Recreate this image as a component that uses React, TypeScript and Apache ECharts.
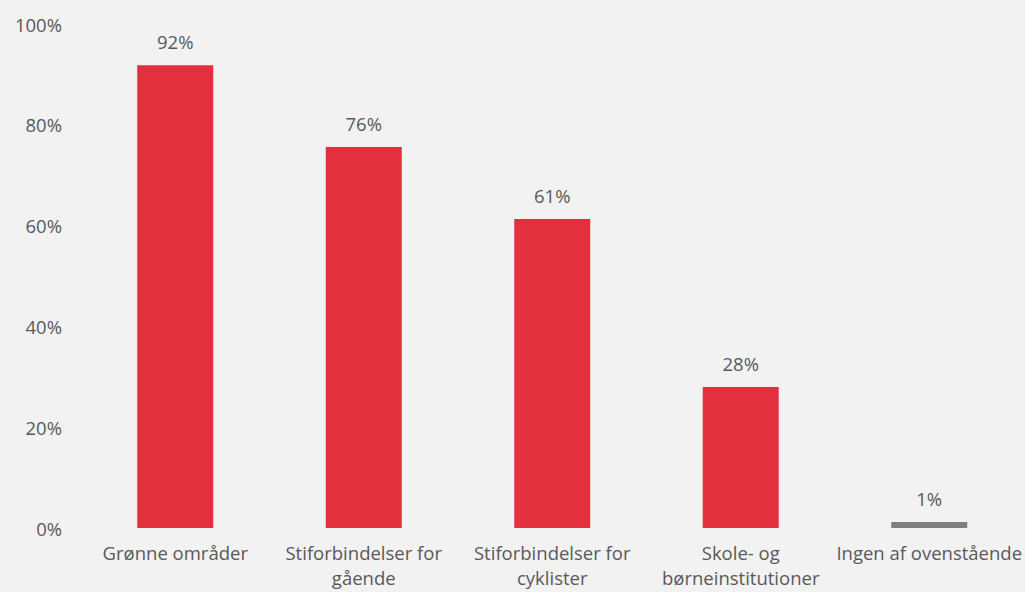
import React, { useEffect, useRef } from "react";
import * as echarts from "echarts";

const categories = [
  "Grønne områder",
  "Stiforbindelser for\ngående",
  "Stiforbindelser for\ncyklister",
  "Skole- og\nbørneinstitutioner",
  "Ingen af ovenstående",
];
const values = [0.918, 0.756, 0.613, 0.28, 0.012];
const barColors = ["#e3303e", "#e3303e", "#e3303e", "#e3303e", "#7f7f80"];

export default function App() {
  const ref = useRef<HTMLDivElement>(null);
  useEffect(() => {
    if (!ref.current) return;
    const chart = echarts.init(ref.current, null, { renderer: "svg" });
    const font = "Open Sans";
    const fs = 18.5;
    chart.setOption({
      animation: false,
      backgroundColor: "#f2f2f2",
      grid: { left: 81, right: 1, top: 24, bottom: 64, containLabel: false },
      xAxis: {
        type: "category",
        data: categories,
        axisLine: { show: false },
        axisTick: { show: false },
        axisLabel: {
          color: "#595959",
          fontSize: fs,
          fontFamily: font,
          margin: 12,
          lineHeight: 25,
          interval: 0,
        },
      },
      yAxis: {
        type: "value",
        min: 0,
        max: 1,
        interval: 0.2,
        splitLine: { show: false },
        axisLine: { show: false },
        axisTick: { show: false },
        axisLabel: {
          color: "#595959",
          fontSize: fs,
          fontFamily: font,
          margin: 19,
          padding: [0, 0, 4, 0],
          formatter: (v: number) => Math.round(v * 100) + "%",
        },
      },
      series: [
        {
          type: "bar",
          barWidth: 76,
          data: values.map((v, i) => ({ value: v, itemStyle: { color: barColors[i] } })),
          label: {
            show: true,
            position: "top",
            distance: 14,
            color: "#595959",
            fontSize: fs,
            fontFamily: font,
            formatter: (p: any) => Math.round(p.value * 100) + "%",
          },
        },
      ],
    });
    return () => chart.dispose();
  }, []);
  return (
    <div
      ref={ref}
      style={{ position: "fixed", left: 0, top: 0, width: 1025, height: 592 }}
    />
  );
}
